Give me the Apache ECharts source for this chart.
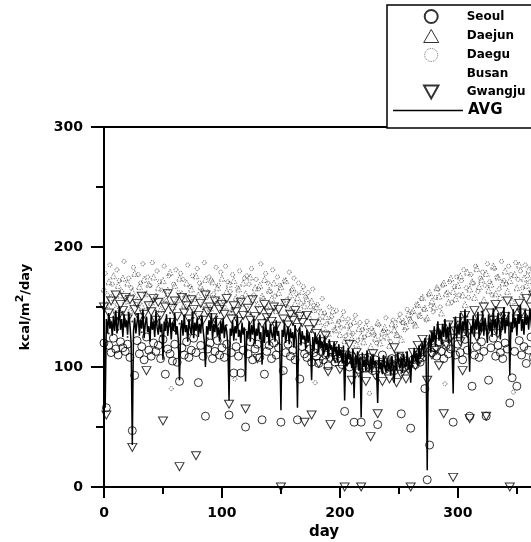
<!DOCTYPE html>
<html><head><meta charset="utf-8">
<script src="https://cdn.jsdelivr.net/npm/echarts@6/dist/echarts.min.js"></script>
<style>html,body{margin:0;padding:0;background:#fff}#c{width:531px;height:542px}</style>
</head><body><div id="c"></div>
<script>
// Daily AVG (days 0..364)
const avgValues = [
150,66,140,128,145,132,138,126,142,130,
147,128,136,150,131,140,125,144,133,139,
127,146,135,120,35,130,141,128,137,145,
126,139,132,148,124,136,142,129,134,121,
143,131,138,125,146,133,127,140,129,136,
106,138,130,144,126,135,141,123,137,130,
145,127,134,122,89,131,139,126,143,129,
135,121,140,132,127,146,124,137,130,141,
125,136,128,143,131,122,100,134,127,139,
130,145,123,136,129,142,126,133,121,138,
128,141,124,135,130,119,72,132,126,139,
122,134,128,143,125,131,120,137,127,133,
88,130,124,138,121,135,127,140,119,132,
126,137,123,129,102,134,120,138,125,131,
118,136,128,124,133,121,139,126,130,117,
64,131,125,137,120,128,134,119,132,124,
129,116,135,122,66,127,133,118,130,123,
126,115,131,120,128,117,89,125,113,129,
119,124,112,127,116,121,110,126,114,120,
108,123,115,118,106,121,112,117,104,119,
110,114,103,118,72,112,101,116,107,111,
99,115,74,109,102,113,97,108,58,112,
100,106,96,114,103,98,109,95,111,101,
105,97,70,108,99,104,94,110,100,96,
107,98,103,93,109,101,87,105,97,112,
102,99,108,95,111,104,100,113,98,106,
87,110,103,116,105,112,101,118,107,114,
120,109,124,115,14,118,127,112,130,121,
134,117,128,138,122,131,119,136,125,140,
123,133,120,137,128,118,78,131,142,124,
135,127,145,122,138,130,148,126,140,121,
96,134,128,143,125,139,131,146,124,137,
129,147,126,141,133,120,144,130,138,125,
149,132,140,127,145,135,123,142,131,150,
128,139,134,146,93,137,129,148,133,141,
126,144,136,152,130,140,127,147,135,143,
131,149,138,128,145
];
// Seoul, even days 0,2,...,364
const seoulValues = [
120,66,118,112,124,115,110,121,116,113,
119,108,47,93,122,111,117,106,125,114,
109,120,113,118,107,123,94,115,111,105,
119,104,88,116,110,121,108,114,124,112,
87,118,109,59,115,120,107,113,122,110,
116,108,119,60,112,95,117,109,95,114,
50,111,121,106,115,119,108,56,94,113,
118,107,120,110,116,54,97,112,119,109,
114,106,56,90,117,111,108,115,104,112,
109,103,113,106,110,101,108,112,104,107,
111,102,63,106,100,109,54,103,98,54,
105,99,108,101,97,106,52,102,110,98,
104,100,107,97,103,108,61,99,105,101,
49,106,102,110,104,108,82,6,35,112,
116,109,121,113,107,118,111,115,54,110,
119,112,106,123,114,59,84,110,117,108,
121,113,59,89,116,124,109,118,112,107,
120,115,70,91,113,84,122,110,117,103,
114,125,108
];
// Daejun, even days 0,2,...,364
const daejunValues = [
165,152,171,158,176,149,168,160,174,155,
170,147,163,178,156,167,151,173,161,169,
154,175,159,166,148,172,157,164,179,150,
168,156,174,161,152,170,158,165,147,176,
160,167,153,173,162,149,171,157,166,155,
174,151,163,169,146,172,158,165,153,170,
161,148,175,156,166,152,168,159,173,150,
164,157,170,147,162,167,154,172,149,160,
166,153,158,145,163,151,157,142,155,148,
150,138,146,133,142,128,139,147,131,136,
127,141,122,135,130,124,138,119,132,126,
121,134,128,117,130,124,137,120,129,133,
125,118,136,131,127,140,123,138,134,144,
139,147,135,152,143,158,149,141,162,155,
150,166,159,145,170,161,154,174,163,157,
168,176,160,152,179,165,171,158,182,167,
173,156,178,164,169,184,161,175,158,170,
180,163,172,155,177,166,185,160,174,168,
181,162,176
];
// Daegu, odd days 1,3,...,363
const daeguValues = [
178,160,185,169,154,181,172,163,188,158,
174,166,183,152,177,170,186,161,175,168,
187,157,180,171,164,184,155,176,82,169,
181,162,178,173,159,185,167,176,156,182,
170,164,187,158,175,172,161,183,168,179,
155,184,171,163,177,90,166,180,158,174,
176,169,182,160,173,165,186,157,178,170,
163,181,159,175,168,95,172,156,179,164,
174,161,170,153,167,158,162,150,165,87,
152,140,157,145,136,150,142,131,147,138,
133,146,126,140,135,128,143,122,137,131,
125,138,78,132,127,120,135,124,130,141,
129,121,139,134,126,144,137,131,148,140,
145,136,152,143,157,148,139,160,151,146,
158,165,150,168,86,162,171,154,167,175,
160,172,181,166,158,177,170,184,163,174,
179,168,186,171,160,182,175,165,188,172,
169,184,177,79,187,173,180,166,185,176,
171,183
];
// Busan, every 4th day 0,4,...,364
const busanValues = [
135,128,142,131,146,125,138,144,129,140,
133,147,126,139,145,130,136,143,127,141,
134,148,124,137,142,129,135,146,123,138,
131,144,127,136,140,125,133,120,139,128,
135,0,124,117,129,112,121,108,115,104,
110,99,113,102,107,96,109,100,94,105,
98,108,101,95,112,104,0,115,109,121,
113,127,118,132,124,138,129,142,120,135,
146,131,139,150,127,143,136,0,148,133,
140,145
];
// Gwangju, even days 0,2,...,364
const gwangjuValues = [
150,60,145,155,138,160,142,152,147,158,
140,156,33,148,153,141,159,144,97,151,
146,157,139,154,143,55,150,161,137,149,
155,142,17,158,145,151,140,156,148,26,
143,153,139,160,146,150,141,155,137,148,
152,144,157,69,140,151,146,138,154,143,
65,149,139,156,142,107,147,136,152,141,
145,138,150,134,148,0,140,153,135,144,
139,147,133,142,137,54,143,131,60,136,
128,103,121,115,126,96,52,118,108,113,
98,110,0,104,119,89,101,112,95,0,
107,88,99,42,111,93,61,102,88,97,
105,90,100,116,87,109,94,103,90,98,
0,112,101,118,106,123,115,89,120,110,
127,114,101,132,61,119,135,124,8,130,
138,121,97,143,128,57,136,147,125,140,
133,150,59,131,145,139,152,128,146,137,
142,155,0,134,148,140,153,145,138,157,
144,150,160
];
const xTicks = [0, 100, 200, 300];
const yTicks = [0, 100, 200, 300];

const FONT = "'DejaVu Sans', sans-serif";
const toPts = (arr, start, step) => arr.map((v, i) => [start + i * step, v]);
const clear = 'rgba(0,0,0,0)';

const chart = echarts.init(document.getElementById('c'), null, {renderer: 'canvas'});
chart.setOption({
  animation: false,
  backgroundColor: '#fff',
  grid: {left: 104, top: 127, width: 440, height: 360, outerBoundsMode: 'none', containLabel: false,
         show: true, borderColor: '#000', borderWidth: 2, backgroundColor: 'transparent'},
  graphic: [{type: 'rect', z: 0, shape: {x: 387, y: 5, width: 170, height: 123}, style: {fill: '#fff', stroke: '#000', lineWidth: 1.5}}],
  legend: [
    {orient: 'vertical', left: 418, top: 4, itemWidth: 15, itemHeight: 13, itemGap: 5, selectedMode: false,
     data: [{name: 'Seoul'}, {name: 'Daejun', itemStyle: {borderColor: '#000', borderWidth: 1}},
            {name: 'Daegu', itemStyle: {color: clear, borderColor: '#333', borderWidth: 0.9, borderType: 'dotted'}},
            {name: 'Busan', icon: 'none'}, {name: 'Gwangju'}],
     textStyle: {fontFamily: FONT, fontWeight: 'bold', fontSize: 12, color: '#000', padding: [0, 0, 0, 23]}},
    {orient: 'vertical', left: 388, top: 98, itemWidth: 70, itemHeight: 1.5, selectedMode: false,
     data: [{name: 'AVG', icon: 'rect', itemStyle: {color: '#000'}}],
     textStyle: {fontFamily: FONT, fontWeight: 'bold', fontSize: 15, color: '#000'}}
  ],
  xAxis: [{
    type: 'value', min: 0, max: 373, interval: 100,
    name: 'day', nameLocation: 'middle', nameGap: 37,
    nameTextStyle: {fontFamily: FONT, fontWeight: 'bold', fontSize: 15, color: '#000'},
    axisLine: {lineStyle: {color: '#000', width: 2}},
    axisTick: {length: 11, lineStyle: {color: '#000', width: 2}},
    axisLabel: {margin: 19, fontFamily: FONT, fontWeight: 'bold', fontSize: 14, color: '#000',
      formatter: v => (xTicks.indexOf(v) >= 0 ? String(v) : '')},
    splitLine: {show: false}
  }, {
    type: 'value', min: 0, max: 373, interval: 50, position: 'bottom',
    axisLine: {show: false}, axisLabel: {show: false}, splitLine: {show: false},
    axisTick: {length: 7, lineStyle: {color: '#000', width: 2}}
  }],
  yAxis: {
    type: 'value', min: 0, max: 300, interval: 100,
    name: '{a|kcal/m}{s|2}{a|/day}', nameLocation: 'middle', nameGap: 72, nameRotate: 90,
    nameTextStyle: {color: '#000', rich: {
      a: {fontFamily: FONT, fontWeight: 'bold', fontSize: 13, color: '#000', lineHeight: 17, verticalAlign: 'bottom'},
      s: {fontFamily: FONT, fontWeight: 'bold', fontSize: 11, color: '#000', lineHeight: 17, verticalAlign: 'top'}
    }},
    axisLine: {lineStyle: {color: '#000', width: 2}},
    axisTick: {length: 13, lineStyle: {color: '#000', width: 2}},
    minorTick: {show: true, splitNumber: 2, length: 8, lineStyle: {color: '#000', width: 2}},
    axisLabel: {margin: 21, fontFamily: FONT, fontWeight: 'bold', fontSize: 14, color: '#000',
      formatter: v => (yTicks.indexOf(v) >= 0 ? String(v) : '')},
    splitLine: {show: false}
  },
  series: [
    {name: 'AVG', type: 'line', data: toPts(avgValues, 0, 1), symbol: 'none', showSymbol: false,
     lineStyle: {color: '#000', width: 1.5}, itemStyle: {color: '#000'}, z: 2},
    {name: 'Daegu', type: 'scatter', data: toPts(daeguValues, 1, 2), symbol: 'circle', symbolSize: 4,
     itemStyle: {color: clear, borderColor: '#111', borderWidth: 0.9, borderType: 'dotted'}, z: 3},
    {name: 'Daejun', type: 'scatter', data: toPts(daejunValues, 0, 2), symbol: 'triangle', symbolSize: 6,
     itemStyle: {color: clear, borderColor: '#222', borderWidth: 0.8, borderType: [1.5, 1.2]}, z: 3},
    {name: 'Busan', type: 'scatter', data: toPts(busanValues, 0, 4), symbol: 'circle', symbolSize: 2,
     itemStyle: {color: '#000'}, z: 3},
    {name: 'Gwangju', type: 'scatter', data: toPts(gwangjuValues, 0, 2), symbol: 'path://M0,0L10,0L5,9Z', symbolSize: [9, 8],
     itemStyle: {color: clear, borderColor: '#000', borderWidth: 1}, z: 4},
    {name: 'Seoul', type: 'scatter', data: toPts(seoulValues, 0, 2), symbol: 'circle', symbolSize: 8,
     itemStyle: {color: clear, borderColor: '#000', borderWidth: 1}, z: 4}
  ]
});
</script></body></html>
